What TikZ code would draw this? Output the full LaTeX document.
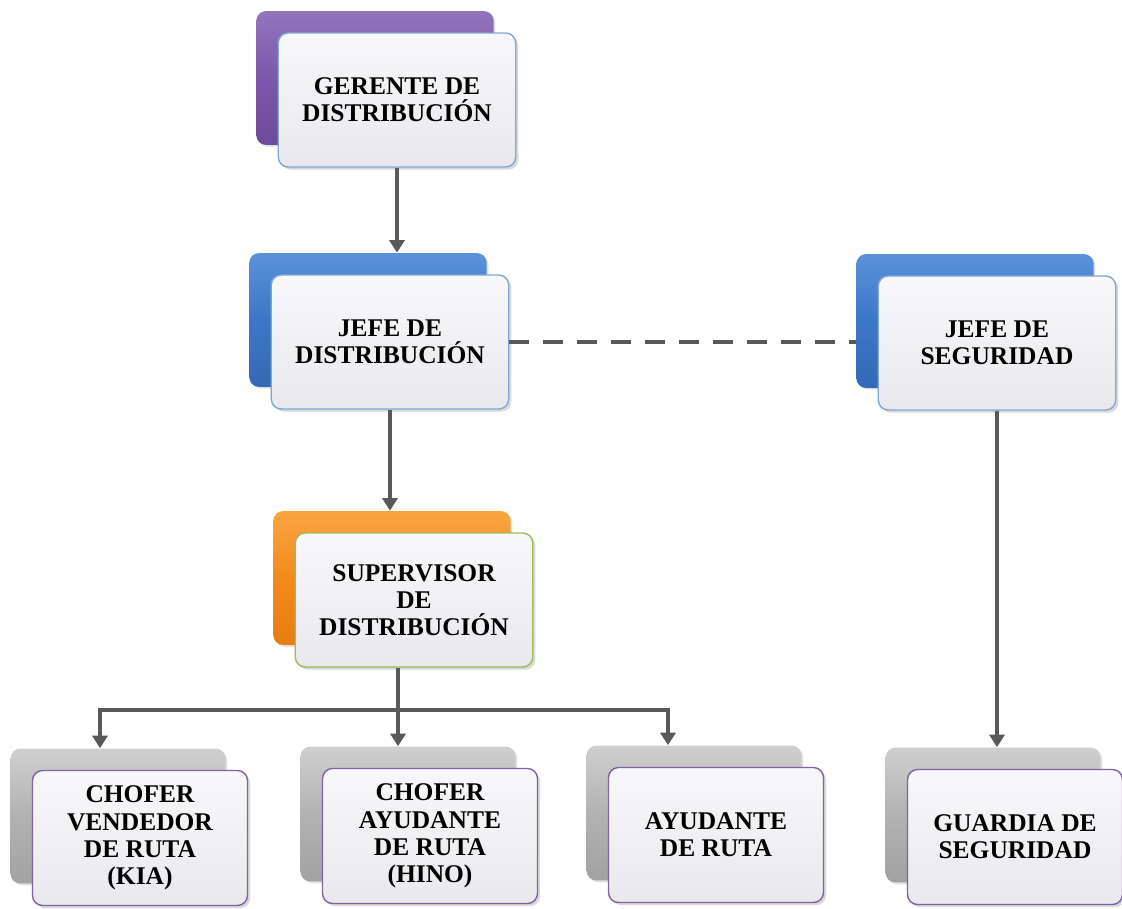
\documentclass[tikz,border=0pt]{standalone}
\usepackage{fontspec}
\setmainfont{Liberation Serif}
\usetikzlibrary{arrows.meta,shadows}
\tikzstyle{chart} = [x = 0.02cm, y = -0.02cm]
\definecolor{lineColor}{HTML}{595959}
\definecolor{purpleLight}{HTML}{9275BD}
\definecolor{purpleMid}{HTML}{7C57AB}
\definecolor{purpleDark}{HTML}{6E4A9C}
\definecolor{blueLight}{HTML}{5A92DA}
\definecolor{blueMid}{HTML}{3C77C6}
\definecolor{blueDark}{HTML}{3369B4}
\definecolor{orangeLight}{HTML}{FAA542}
\definecolor{orangeMid}{HTML}{F28A1C}
\definecolor{orangeDark}{HTML}{E57D12}
\definecolor{grayLight}{HTML}{CFCFCF}
\definecolor{grayMid}{HTML}{B2B2B2}
\definecolor{grayDark}{HTML}{A2A2A2}
\definecolor{frontLight}{HTML}{F8F8FA}
\definecolor{frontDark}{HTML}{E9E9ED}
\definecolor{blueBorder}{HTML}{7FA7D6}
\definecolor{greenBorder}{HTML}{9BBB59}
\definecolor{purpleBorder}{HTML}{8064A2}
\tikzstyle{bigBox} = [minimum width = 4.75cm, minimum height = 2.68cm]
\tikzstyle{smallBox} = [minimum width = 4.3cm, minimum height = 2.7cm]
\tikzstyle{backBox} = [rectangle, rounded corners = .2cm, draw = none, drop shadow = {opacity = .25, shadow xshift = 1pt, shadow yshift = -1pt}]
\tikzstyle{frontBox} = [rectangle, rounded corners = .2cm, line width = .8pt, top color = frontLight, bottom color = frontDark, align = center, font = \bfseries\fontsize{14.5}{15.5}\selectfont, drop shadow = {opacity = .3, shadow xshift = 1.5pt, shadow yshift = -1.5pt}]
\tikzstyle{linkLine} = [color = lineColor, line width = .08cm]
\tikzstyle{linkArrow} = [linkLine, -{Triangle[width = .3cm, length = .25cm]}]
\tikzstyle{dashLine} = [color = lineColor, line width = .09cm, dash pattern = on .4cm off .28cm]
\newcommand{\orgUnit}[7]{
  \node [backBox, #4, top color = #5Light, bottom color = #5Dark, middle color = #5Mid] (#1Back) at (#2 - 22, #3 - 22) {};
  \node [frontBox, #4, draw = #6] (#1) at (#2, #3) {#7};
}

\begin{document}
\begin{tikzpicture}[chart]
  \useasboundingbox (0,0) rectangle (1122,909);
  \orgUnit{gerente}{397}{100}{bigBox}{purple}{blueBorder}{GERENTE DE\\DISTRIBUCIÓN}
  \orgUnit{jefeDist}{390}{342}{bigBox}{blue}{blueBorder}{JEFE DE\\DISTRIBUCIÓN}
  \orgUnit{jefeSeg}{997}{343}{bigBox}{blue}{blueBorder}{JEFE DE\\SEGURIDAD}
  \orgUnit{supervisor}{414}{600}{bigBox}{orange}{greenBorder}{SUPERVISOR\\DE\\DISTRIBUCIÓN}
  \orgUnit{choferKia}{140}{838}{smallBox}{gray}{purpleBorder}{CHOFER\\VENDEDOR\\DE RUTA\\(KIA)}
  \orgUnit{choferHino}{430}{836}{smallBox}{gray}{purpleBorder}{CHOFER\\AYUDANTE\\DE RUTA\\(HINO)}
  \orgUnit{ayudante}{716}{835}{smallBox}{gray}{purpleBorder}{AYUDANTE\\DE RUTA}
  \orgUnit{guardia}{1015}{837}{smallBox}{gray}{purpleBorder}{GUARDIA DE\\SEGURIDAD}
  \coordinate (bus) at (398, 710);
  \coordinate (busLeft) at (100, 710);
  \coordinate (busRight) at (668, 710);
  \draw [linkArrow] (gerente.south) -- (gerente.south |- jefeDistBack.north);
  \draw [linkArrow] (jefeDist.south) -- (jefeDist.south |- supervisorBack.north);
  \draw [dashLine] (jefeDist.east) -- (jefeDist.east -| jefeSegBack.west);
  \draw [linkArrow] (jefeSeg.south) -- (jefeSeg.south |- guardiaBack.north);
  \draw [linkArrow] (supervisor.south -| bus) -- (bus |- choferHinoBack.north);
  \draw [linkArrow] (bus) -| (busLeft |- choferKiaBack.north);
  \draw [linkArrow] (bus) -| (busRight |- ayudanteBack.north);
\end{tikzpicture}
\end{document}
